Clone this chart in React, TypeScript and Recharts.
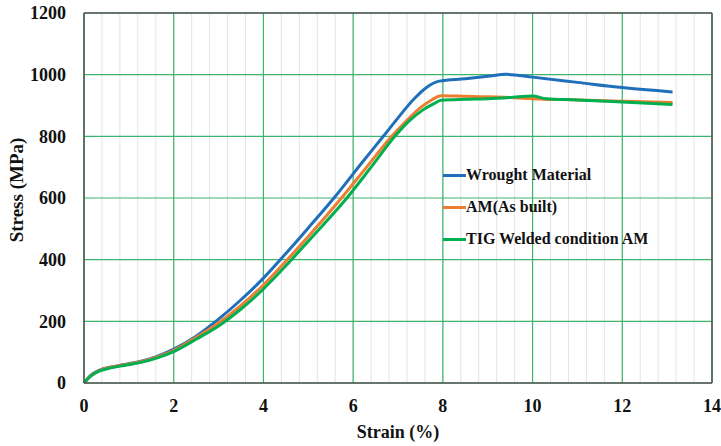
import {
  LineChart,
  Line,
  XAxis,
  YAxis,
  CartesianGrid,
  ReferenceLine,
  Label,
} from "recharts";

const xTicks = [0, 2, 4, 6, 8, 10, 12, 14];
const yTicks = [0, 200, 400, 600, 800, 1000, 1200];
const minorX = Array.from({ length: 35 }, (_, i) => +(i * 0.4).toFixed(1));

const wroughtX = [0, 0.15, 0.35, 0.6, 0.9, 1.25, 1.6, 2.0, 2.5, 3.0, 3.5, 4.0, 4.5, 5.0, 5.6, 6.2, 6.7, 7.0, 7.35, 7.65, 7.92, 8.5, 9.0, 9.42, 10.0, 11.0, 12.0, 13.12];
const wroughtY = [0, 25, 42, 52, 60, 70, 85, 110, 152, 207, 270, 340, 420, 503, 605, 715, 805, 860, 920, 960, 979, 987, 995, 1001, 992, 975, 958, 944];

const amX = [0, 0.15, 0.35, 0.6, 0.9, 1.25, 1.6, 2.0, 2.5, 3.0, 3.5, 4.0, 4.5, 5.0, 5.74, 6.3, 6.86, 7.2, 7.5, 7.75, 7.96, 8.5, 9.0, 9.5, 10.0, 11.0, 12.0, 13.12];
const amY = [0, 24, 41, 51, 59, 68, 83, 106, 148, 195, 252, 318, 395, 475, 600, 700, 800, 852, 893, 918, 932, 930, 928, 926, 922, 918, 914, 910];

const tigX = [0, 0.15, 0.35, 0.6, 0.9, 1.25, 1.6, 2.0, 2.5, 3.0, 3.5, 4.0, 4.5, 5.0, 5.86, 6.4, 6.93, 7.25, 7.55, 7.8, 7.96, 8.5, 9.0, 9.5, 10.0, 10.3, 11.0, 12.0, 13.12];
const tigY = [0, 22, 39, 49, 57, 66, 80, 102, 142, 185, 240, 305, 380, 460, 600, 700, 800, 850, 885, 906, 917, 920, 922, 926, 931, 922, 918, 911, 903];

const toPoints = (xs: number[], ys: number[]) => xs.map((x, i) => ({ x, y: ys[i] }));

const series = [
  { name: "Wrought Material", color: "#1f6fba", data: toPoints(wroughtX, wroughtY) },
  { name: "AM(As built)", color: "#ed7d31", data: toPoints(amX, amY) },
  { name: "TIG Welded condition AM", color: "#00b050", data: toPoints(tigX, tigY) },
];

const font = "'Liberation Serif', Tinos, 'Times New Roman', 'DejaVu Serif', serif";

// minor grid: every 0.4 strain units, mapped over the plot width
const minorGrid = ({ xAxis, offset }: any) => {
  if (xAxis && typeof xAxis.scale === "function") return minorX.map((v) => xAxis.scale(v));
  return minorX.map((v) => offset.left + (v / 14) * offset.width);
};

export default function App() {
  const tick = { fontSize: 18, fontWeight: "bold", fill: "#111", fontFamily: font };
  return (
    <div style={{ position: "absolute", left: 0, top: 0, width: 721, height: 446, background: "#fff" }}>
      <LineChart width={721} height={446} margin={{ top: 13, right: 9, left: 14, bottom: 0 }}>
        <CartesianGrid horizontal={false} stroke="#e4e4e4" verticalCoordinatesGenerator={minorGrid} />
        <CartesianGrid stroke="#3cb46e" strokeWidth={1.2} />
        <XAxis
          type="number"
          dataKey="x"
          domain={[0, 14]}
          ticks={xTicks}
          height={63}
          tickLine={false}
          tickMargin={10}
          stroke="#555"
          strokeWidth={1.5}
          tick={tick}
          allowDuplicatedCategory={false}
        >
          <Label
            value="Strain (%)"
            position="insideBottom"
            offset={8}
            style={{ fontSize: 18, fontWeight: "bold", fill: "#111", fontFamily: font }}
          />
        </XAxis>
        <YAxis
          type="number"
          domain={[0, 1200]}
          ticks={yTicks}
          width={70}
          tickLine={false}
          tickMargin={12}
          stroke="#555"
          strokeWidth={1.5}
          tick={tick}
        >
          <Label
            value="Stress (MPa)"
            angle={-90}
            position="insideLeft"
            offset={2}
            dy={-8}
            style={{ fontSize: 19, fontWeight: "bold", fill: "#111", fontFamily: font, textAnchor: "middle" }}
          />
        </YAxis>
        <ReferenceLine y={1200} stroke="#555" strokeWidth={1.5} />
        <ReferenceLine x={14} stroke="#555" strokeWidth={1.5} />
        {series.map((s) => (
          <Line
            key={s.name}
            data={s.data}
            dataKey="y"
            name={s.name}
            type="monotone"
            stroke={s.color}
            strokeWidth={3}
            dot={false}
            isAnimationActive={false}
          />
        ))}
      </LineChart>
      <div
        style={{
          position: "absolute",
          left: 443,
          top: 159,
          fontFamily: font,
          fontWeight: "bold",
          fontSize: 16,
          color: "#111",
        }}
      >
        {series.map((s) => (
          <div key={s.name} style={{ display: "flex", alignItems: "center", height: 32 }}>
            <span style={{ width: 23, height: 3, background: s.color, display: "inline-block" }} />
            <span>{s.name}</span>
          </div>
        ))}
      </div>
    </div>
  );
}
